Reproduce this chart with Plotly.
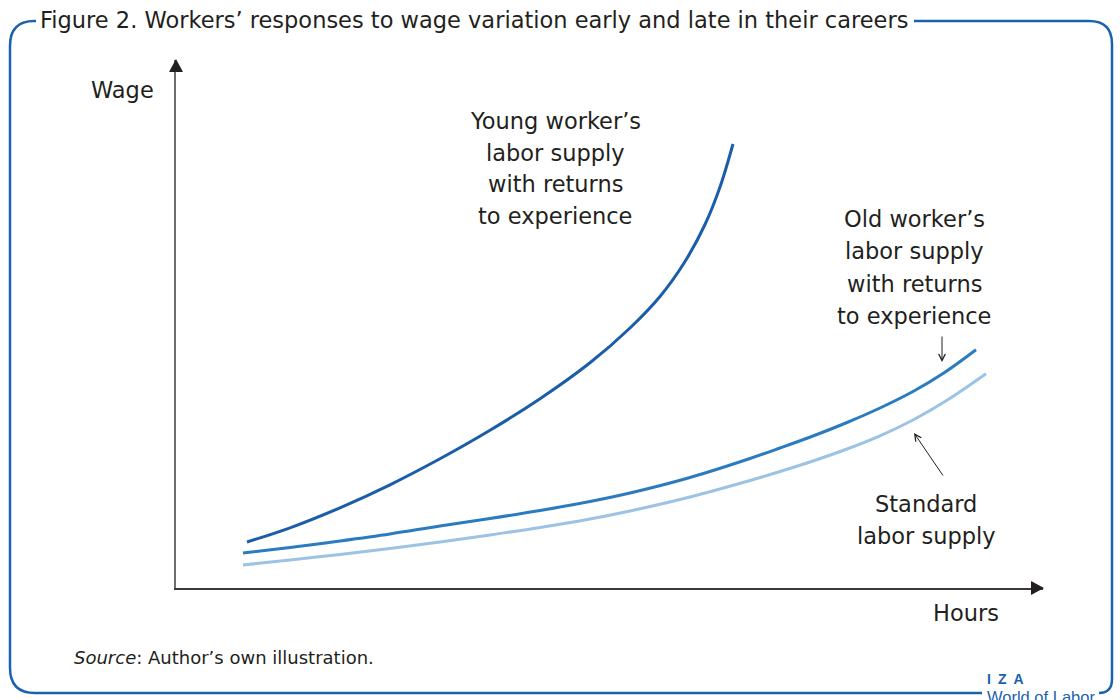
import plotly.graph_objects as go

# ---- data (arbitrary units: Hours 0-86.7, Wage 0-52.8) ----
young_hours = [7.1, 11.4, 16.4, 21.4, 26.4, 31.4, 36.4, 41.4, 45.4, 48.4, 50.9, 52.9, 54.4, 55.7]
young_wage = [4.6, 6.02, 8.02, 10.32, 12.92, 15.77, 18.92, 22.52, 26.0, 29.15, 32.65, 36.35,
              40.1, 44.4]

old_hours = [6.7, 11.4, 16.4, 21.4, 26.4, 31.4, 36.4, 41.4, 45.4, 51.4, 57.4, 60.4, 63.7,
             67.1, 70.4, 73.7, 76.7, 80.0]
old_wage = [3.5, 4.05, 4.7, 5.4, 6.2, 6.95, 7.75, 8.65, 9.5, 11.05, 12.95, 14.0, 15.2,
            16.55, 18.0, 19.65, 21.45, 23.83]

std_hours = [6.7, 11.4, 16.4, 21.4, 26.4, 31.4, 36.4, 41.4, 45.4, 51.4, 57.4, 60.4, 63.7,
             67.1, 70.4, 73.7, 77.1, 81.0]
std_wage = [2.3, 2.8, 3.35, 3.95, 4.6, 5.3, 6.05, 6.9, 7.7, 9.1, 10.75, 11.65, 12.7,
            13.9, 15.22, 16.8, 18.77, 21.42]

HOURS_MAX, WAGE_MAX = 86.7, 52.8

W, H = 1120, 700
L, R, T, B = 176, 77, 60, 112
PW, PH = W - L - R, H - T - B

def px(x):  # pixel -> paper x
    return (x - L) / PW

def py(y):  # pixel -> paper y
    return (H - B - y) / PH

FONT = "DejaVu Sans, Verdana, sans-serif"
TXT = "#231f20"
BLUE = "#1a62ad"

fig = go.Figure()
fig.add_trace(go.Scatter(x=std_hours, y=std_wage, mode="lines",
                         line=dict(color="#9cc3e4", width=3, shape="spline", smoothing=1.0),
                         hoverinfo="skip"))
fig.add_trace(go.Scatter(x=old_hours, y=old_wage, mode="lines",
                         line=dict(color="#2a7bc0", width=3, shape="spline", smoothing=1.0),
                         hoverinfo="skip"))
fig.add_trace(go.Scatter(x=young_hours, y=young_wage, mode="lines",
                         line=dict(color="#1a5da8", width=3, shape="spline", smoothing=1.0),
                         hoverinfo="skip"))

shapes = []
# axis arrow heads
shapes.append(dict(type="path", xref="paper", yref="paper",
                   path=f"M{px(176)},{py(59)} L{px(169)},{py(72)} L{px(183)},{py(72)} Z",
                   fillcolor="#231f20", line=dict(width=0)))
shapes.append(dict(type="path", xref="paper", yref="paper",
                   path=f"M{px(1044)},{py(588)} L{px(1031)},{py(581)} L{px(1031)},{py(595)} Z",
                   fillcolor="#231f20", line=dict(width=0)))
# frame with title gap and logo gap
top = (f"M{px(36)},{py(21)} H{px(34)} Q{px(10)},{py(21)} {px(10)},{py(46)} "
       f"V{py(668)} Q{px(10)},{py(693)} {px(35)},{py(693)} H{px(982)}")
shapes.append(dict(type="path", xref="paper", yref="paper", path=top,
                   line=dict(color=BLUE, width=2.5)))
right = (f"M{px(1099)},{py(693)} Q{px(1112)},{py(693)} {px(1112)},{py(679)} "
         f"V{py(44)} Q{px(1112)},{py(21)} {px(1089)},{py(21)} H{px(914)}")
shapes.append(dict(type="path", xref="paper", yref="paper", path=right,
                   line=dict(color=BLUE, width=2.5)))

ann = []
def text(x, y, s, size=22.5, color=TXT, xanchor="center", family=FONT, **kw):
    ann.append(dict(x=px(x), y=py(y), xref="paper", yref="paper", text=s,
                    showarrow=False, xanchor=xanchor, yanchor="middle",
                    font=dict(family=family, size=size, color=color), **kw))

text(38, 20, "Figure 2. Workers’ responses to wage variation early and late in their careers",
     size=22.5, xanchor="left")
text(122, 90, "Wage")
text(966, 613, "Hours")
for i, s in enumerate(["Young worker’s", "labor supply", "with returns", "to experience"]):
    text(555, 121 + i * 31.7, s)
for i, s in enumerate(["Old worker’s", "labor supply", "with returns", "to experience"]):
    text(914, 219 + i * 32.3, s)
for i, s in enumerate(["Standard", "labor supply"]):
    text(926, 504 + i * 32, s)
text(72, 657, "<i>Source</i>: Author’s own illustration.", size=18, xanchor="left")
text(985, 679, "<b>I\u2002Z\u2002A</b>", size=14, color=BLUE, xanchor="left",
     family="Liberation Sans, Arial, sans-serif")
text(985, 697, "World of Labor", size=16.5, color=BLUE, xanchor="left",
     family="Liberation Sans, Arial, sans-serif")

# pointer arrows
ann.append(dict(x=px(942), y=py(362), ax=px(942), ay=py(335), xref="x domain", yref="y domain",
                axref="x domain", ayref="y domain", showarrow=True, arrowhead=5,
                arrowsize=1.3, arrowwidth=1, arrowcolor=TXT, text=""))
ann.append(dict(x=px(914), y=py(433), ax=px(944), ay=py(477), xref="x domain", yref="y domain",
                axref="x domain", ayref="y domain", showarrow=True, arrowhead=5,
                arrowsize=1.3, arrowwidth=1, arrowcolor=TXT, text=""))

fig.update_layout(
    width=W, height=H,
    margin=dict(l=L, r=R, t=T, b=B),
    paper_bgcolor="white", plot_bgcolor="white",
    showlegend=False,
    shapes=shapes, annotations=ann,
    xaxis=dict(range=[0, HOURS_MAX], showgrid=False, zeroline=False, showticklabels=False,
               ticks="", showline=True, linecolor="#3a3a3a", linewidth=2, fixedrange=True),
    yaxis=dict(range=[0, WAGE_MAX], showgrid=False, zeroline=False, showticklabels=False,
               ticks="", showline=True, linecolor="#6d6e71", linewidth=2, fixedrange=True),
)
fig.write_html("out.html", config=dict(displayModeBar=False),
               post_script="document.body.style.margin='0';document.body.style.overflow='hidden';")
